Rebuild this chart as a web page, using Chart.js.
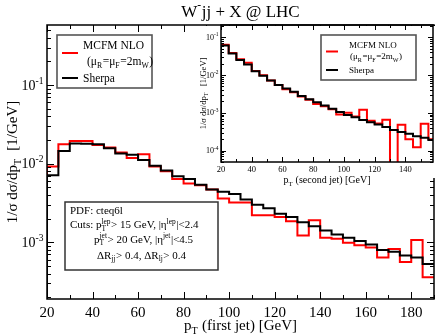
<!DOCTYPE html>
<html>
<head>
<meta charset="utf-8">
<script src="https://cdn.jsdelivr.net/npm/chart.js@4.4.1/dist/chart.umd.min.js"></script>
<style>
  html, body { margin: 0; padding: 0; background: #fff; }
  #wrap { position: relative; width: 436px; height: 335px; }
  #main { position: absolute; left: 0; top: 0; width: 436px; height: 335px; }
  #inset { position: absolute; left: 188px; top: 18px; width: 248px; height: 175px; }
</style>
</head>
<body>
<div id="wrap">
  <canvas id="main" width="436" height="335"></canvas>
  <canvas id="inset" width="248" height="175"></canvas>
</div>
<script>
// pT of first jet, 5 GeV bins
const mainEdges = [20, 25, 30, 35, 40, 45, 50, 55, 60, 65, 70, 75, 80, 85, 90, 95, 100,
  105, 110, 115, 120, 125, 130, 135, 140, 145, 150, 155, 160, 165, 170, 175, 180, 185, 190];
const mainMcfm = [0.0092, 0.0176, 0.0194, 0.0194, 0.0173, 0.0160, 0.0139, 0.0118, 0.0132, 0.0092,
  0.0080, 0.0064, 0.0056, 0.0053, 0.0047, 0.0036, 0.0032, 0.0032, 0.0022, 0.0022,
  0.0021, 0.00185, 0.00122, 0.0019, 0.00114, 0.00111, 0.00099, 0.00092, 0.00086, 0.00064,
  0.00082, 0.00056, 0.00107, 0.00036];
const mainSherpa = [0.0071, 0.0145, 0.0181, 0.0179, 0.0176, 0.0157, 0.0135, 0.0130, 0.0111, 0.0094,
  0.0082, 0.0069, 0.0064, 0.0054, 0.0047, 0.0044, 0.0041, 0.0035, 0.0030, 0.0027,
  0.0023, 0.0021, 0.0018, 0.0016, 0.00141, 0.00126, 0.00114, 0.00104, 0.00094, 0.00080,
  0.00076, 0.00068, 0.00064, 0.00053];
const mainXTicks = [20, 40, 60, 80, 100, 120, 140, 160, 180];

// pT of second jet (inset)
const insetEdges = [20, 25, 30, 35, 40, 45, 50, 55, 60, 65, 70, 75, 80, 85, 90, 95, 100,
  105, 110, 115, 120, 125, 130, 135, 140, 145, 150, 155, 160];
const insetMcfm = [0.063, 0.038, 0.026, 0.021, 0.0128, 0.0098, 0.0072, 0.0054, 0.0042, 0.0035,
  0.0027, 0.0022, 0.0017, 0.0015, 0.00125, 0.0009, 0.0010, 0.0008, 0.0012, 0.00062,
  0.00052, 0.00066, 0, 0.00048, 0.00020, 0.000123, 0.00051, 0.00020];
const insetSherpa = [0.060, 0.037, 0.025, 0.019, 0.0125, 0.0095, 0.0072, 0.0054, 0.0044, 0.0036,
  0.0028, 0.0023, 0.0019, 0.00155, 0.00128, 0.00105, 0.00088, 0.00076, 0.00065, 0.00056,
  0.00049, 0.00042, 0.00035, 0.00031, 0.00028, 0.00024, 0.00022, 0.00019];
const insetXTicks = [20, 40, 60, 80, 100, 120, 140];

const mainDecades = [-1, -2, -3];
const insetDecades = [-1, -2, -3, -4];

const FONT = '"Liberation Serif", "DejaVu Serif", serif';
const RED = '#ff0000';
const FLOOR = 1e-7; // stands in for empty bins on the log axis

// histogram -> points for a 'before' stepped line
function steps(edges, vals) {
  const pts = [{ x: edges[0], y: FLOOR }];
  vals.forEach((v, i) => pts.push({ x: edges[i], y: v > 0 ? v : FLOOR }));
  pts.push({ x: edges[edges.length - 1], y: vals[vals.length - 1] });
  return pts;
}

// text with sub/superscripts; parts are strings or {sub, sup}
function rich(ctx, parts, x, cy, size, align) {
  const small = size * 0.68;
  const base = cy + size * 0.33;
  const segs = parts.map(p => {
    if (typeof p === 'string') {
      ctx.font = size + 'px ' + FONT;
      return { p, w: ctx.measureText(p).width };
    }
    ctx.font = small + 'px ' + FONT;
    const w = Math.max(p.sub ? ctx.measureText(p.sub).width : 0, p.sup ? ctx.measureText(p.sup).width : 0);
    return { p, w: w + 0.5 };
  });
  const total = segs.reduce((s, g) => s + g.w, 0);
  let cx = align === 'center' ? x - total / 2 : align === 'right' ? x - total : x;
  ctx.textAlign = 'left';
  ctx.textBaseline = 'alphabetic';
  ctx.fillStyle = '#000';
  for (const g of segs) {
    if (typeof g.p === 'string') {
      ctx.font = size + 'px ' + FONT;
      ctx.fillText(g.p, cx, base);
    } else {
      ctx.font = small + 'px ' + FONT;
      if (g.p.sub) ctx.fillText(g.p.sub, cx, base + size * 0.25);
      if (g.p.sup) ctx.fillText(g.p.sup, cx, base - size * 0.42);
    }
    cx += g.w;
  }
}

// inward ticks on all four sides, frame and decade labels
function frame(chart, c) {
  const { ctx, chartArea: a, scales: { x, y } } = chart;
  ctx.save();
  ctx.strokeStyle = '#000';
  ctx.lineWidth = 1;
  ctx.beginPath();
  for (let v = x.min; v <= x.max + 1e-9; v += c.xMinor) {
    const px = Math.round(x.getPixelForValue(v)) + 0.5;
    const len = (v - x.min) % c.xMajor === 0 ? c.major : c.minor;
    ctx.moveTo(px, a.bottom); ctx.lineTo(px, a.bottom - len);
    ctx.moveTo(px, a.top); ctx.lineTo(px, a.top + len);
  }
  const d0 = Math.floor(Math.log10(y.min)), d1 = Math.ceil(Math.log10(y.max));
  for (let d = d0; d <= d1; d++) {
    for (let k = 1; k <= 9; k++) {
      const v = k * Math.pow(10, d);
      if (v < y.min || v > y.max) continue;
      const py = Math.round(y.getPixelForValue(v)) + 0.5;
      const len = k === 1 ? c.major : c.minor;
      ctx.moveTo(a.left, py); ctx.lineTo(a.left + len, py);
      ctx.moveTo(a.right, py); ctx.lineTo(a.right - len, py);
    }
  }
  ctx.stroke();
  ctx.lineWidth = 1.5;
  ctx.strokeRect(a.left, a.top, a.right - a.left, a.bottom - a.top);
  c.decades.forEach(d => {
    rich(ctx, ['10', { sup: '-' + (-d) }], a.left - c.labelGap, y.getPixelForValue(Math.pow(10, d)), c.labelSize, 'right');
  });
  ctx.restore();
}

function legend(ctx, box, rows, size) {
  ctx.save();
  ctx.strokeStyle = '#555';
  ctx.lineWidth = 1.6;
  ctx.strokeRect(box[0], box[1], box[2], box[3]);
  rows.forEach(r => {
    if (r.line) {
      ctx.strokeStyle = r.line;
      ctx.lineWidth = 2;
      ctx.beginPath();
      ctx.moveTo(r.lx[0], r.ly); ctx.lineTo(r.lx[1], r.ly);
      ctx.stroke();
    }
    rich(ctx, r.text, r.x, r.y, size, 'left');
  });
  ctx.restore();
}

function histSets(edges, mcfm, sherpa) {
  return [
    { label: 'Sherpa', data: steps(edges, sherpa), borderColor: '#000' },
    { label: 'MCFM NLO', data: steps(edges, mcfm), borderColor: RED }
  ].map(s => Object.assign(s, { stepped: 'before', borderWidth: 2, pointRadius: 0, fill: false }));
}

function xAxis(min, max, list, size, pad, height) {
  return {
    type: 'linear', min, max, bounds: 'data',
    grid: { display: false, drawTicks: false }, border: { display: false },
    afterBuildTicks(s) { s.ticks = list.map(v => ({ value: v })); },
    ticks: { maxRotation: 0, autoSkip: false, padding: pad, color: '#000', font: { family: FONT, size } },
    afterFit(s) { s.height = height; }
  };
}

function yAxis(min, max, width) {
  return {
    type: 'logarithmic', min, max, bounds: 'data',
    grid: { display: false, drawTicks: false }, border: { display: false },
    ticks: { display: false },
    afterFit(s) { s.width = width; }
  };
}

// ---------- main chart ----------
new Chart(document.getElementById('main'), {
  type: 'line',
  data: { datasets: histSets(mainEdges, mainMcfm, mainSherpa) },
  options: {
    responsive: false,
    animation: false,
    events: [],
    layout: { padding: { top: 25, right: 2, left: 0, bottom: 0 } },
    plugins: { legend: { display: false }, tooltip: { enabled: false } },
    scales: {
      x: xAxis(20, 190, mainXTicks, 15, 5, 36),
      y: yAxis(1.9e-4, 0.58, 47)
    }
  },
  plugins: [{
    id: 'mainDeco',
    beforeDraw(chart) {
      const ctx = chart.ctx;
      ctx.save(); ctx.fillStyle = '#fff'; ctx.fillRect(0, 0, chart.width, chart.height); ctx.restore();
    },
    afterDraw(chart) {
      const ctx = chart.ctx, a = chart.chartArea;
      frame(chart, { xMajor: 20, xMinor: 10, major: 7, minor: 4, decades: mainDecades, labelGap: 3, labelSize: 14 });
      const cx = (a.left + a.right) / 2;
      rich(ctx, ['W', { sup: '-' }, 'jj + X @ LHC'], cx, 11, 17, 'center');
      rich(ctx, ['p', { sub: 'T' }, ' (first jet) [GeV]'], cx, 325, 15, 'center');
      ctx.save();
      ctx.translate(12, (a.top + a.bottom) / 2);
      ctx.rotate(-Math.PI / 2);
      rich(ctx, ['1/σ dσ/dp', { sub: 'T' }, '  [1/GeV]'], 0, 0, 15, 'center');
      ctx.restore();
      legend(ctx, [57, 35, 95, 53], [
        { text: ['MCFM NLO'], x: 83, y: 45, line: RED, lx: [62, 78], ly: 53 },
        { text: ['(μ', { sub: 'R' }, '=μ', { sub: 'F' }, '=2m', { sub: 'W' }, ')'], x: 87, y: 61 },
        { text: ['Sherpa'], x: 83, y: 78, line: '#000', lx: [62, 78], ly: 78 }
      ], 11.5);
      // cuts box
      ctx.save();
      ctx.strokeStyle = '#333'; ctx.lineWidth = 1.5;
      ctx.strokeRect(65, 202, 153, 68);
      ctx.restore();
      rich(ctx, ['PDF: cteq6l'], 70, 210, 11);
      rich(ctx, ['Cuts: p', { sub: 'T', sup: 'lep' }, '> 15 GeV, |η', { sup: 'lep' }, '|<2.4'], 70, 224.5, 11);
      rich(ctx, ['p', { sub: 'T', sup: 'jet' }, '> 20 GeV, |η', { sup: 'jet' }, '|<4.5'], 94, 239, 11);
      rich(ctx, ['ΔR', { sub: 'jj' }, '> 0.4, ΔR', { sub: 'lj' }, '> 0.4'], 97, 255, 11);
    }
  }]
});

// ---------- inset chart ----------
new Chart(document.getElementById('inset'), {
  type: 'line',
  data: { datasets: histSets(insetEdges, insetMcfm, insetSherpa) },
  options: {
    responsive: false,
    animation: false,
    events: [],
    layout: { padding: { top: 7, right: 3, left: 0, bottom: 0 } },
    plugins: { legend: { display: false }, tooltip: { enabled: false } },
    scales: {
      x: xAxis(20, 158, insetXTicks, 8.5, 3, 31),
      y: yAxis(5e-5, 0.21, 33)
    }
  },
  plugins: [{
    id: 'insetDeco',
    beforeDraw(chart) {
      const ctx = chart.ctx;
      ctx.save(); ctx.fillStyle = '#fff'; ctx.fillRect(8, 8, chart.width - 8, 152); ctx.restore();
    },
    afterDraw(chart) {
      const ctx = chart.ctx, a = chart.chartArea;
      frame(chart, { xMajor: 20, xMinor: 10, major: 5, minor: 3, decades: insetDecades, labelGap: 2, labelSize: 8 });
      rich(ctx, ['p', { sub: 'T' }, ' (second jet) [GeV]'], (a.left + a.right) / 2, 162, 10, 'center');
      ctx.save();
      ctx.translate(15, (a.top + a.bottom) / 2);
      ctx.rotate(-Math.PI / 2);
      rich(ctx, ['1/σ dσ/dp', { sub: 'T' }, '   [1/GeV]'], 0, 0, 8.5, 'center');
      ctx.restore();
      legend(ctx, [133, 17, 95, 45], [
        { text: ['MCFM NLO'], x: 161, y: 27, line: RED, lx: [138, 150], ly: 33.5 },
        { text: ['(μ', { sub: 'R' }, '=μ', { sub: 'F' }, '=2m', { sub: 'W' }, ')'], x: 162, y: 38.5 },
        { text: ['Sherpa'], x: 161, y: 52, line: '#000', lx: [138, 150], ly: 52 }
      ], 9);
    }
  }]
});
</script>
</body>
</html>
